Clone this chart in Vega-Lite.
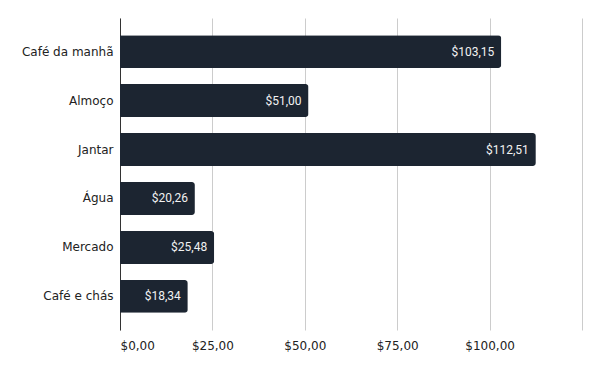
{
  "$schema": "https://vega.github.io/schema/vega-lite/v6.json",
  "width": 462,
  "height": 312,
  "autosize": {"type": "none"},
  "padding": {"left": 120, "top": 18, "right": 18, "bottom": 41},
  "background": "white",
  "config": {"view": {"stroke": null}},
  "data": {
    "values": [
      {"categoria": "Café da manhã", "valor": 103.15},
      {"categoria": "Almoço", "valor": 51.00},
      {"categoria": "Jantar", "valor": 112.51},
      {"categoria": "Água", "valor": 20.26},
      {"categoria": "Mercado", "valor": 25.48},
      {"categoria": "Café e chás", "valor": 18.34}
    ]
  },
  "encoding": {
    "y": {
      "field": "categoria",
      "type": "nominal",
      "sort": null,
      "scale": {"paddingInner": 0.33, "paddingOuter": 0.35},
      "axis": {
        "title": null,
        "ticks": false,
        "domainColor": "#333333",
        "labelFont": "DejaVu Sans",
        "labelFontSize": 12,
        "labelColor": "#222222",
        "labelPadding": 7
      }
    },
    "x": {
      "field": "valor",
      "type": "quantitative",
      "scale": {"domain": [0, 125], "nice": false},
      "axis": {
        "title": null,
        "values": [0, 25, 50, 75, 100, 125],
        "labelExpr": "datum.value >= 125 ? '' : '$' + replace(format(datum.value, '.2f'), '.', ',')",
        "domain": false,
        "ticks": false,
        "grid": true,
        "gridColor": "#cccccc",
        "labelFont": "DejaVu Sans",
        "labelFontSize": 12,
        "labelColor": "#222222",
        "labelPadding": 10
      }
    }
  },
  "layer": [
    {
      "mark": {"type": "bar", "color": "#1c2531", "cornerRadiusEnd": 3}
    },
    {
      "mark": {
        "type": "text",
        "align": "right",
        "baseline": "middle",
        "dx": -7,
        "font": "Roboto",
        "fontSize": 12,
        "color": "#f2f2f2"
      },
      "encoding": {
        "text": {"field": "label", "type": "nominal"}
      },
      "transform": [
        {"calculate": "'$' + replace(format(datum.valor, '.2f'), '.', ',')", "as": "label"}
      ]
    }
  ]
}
